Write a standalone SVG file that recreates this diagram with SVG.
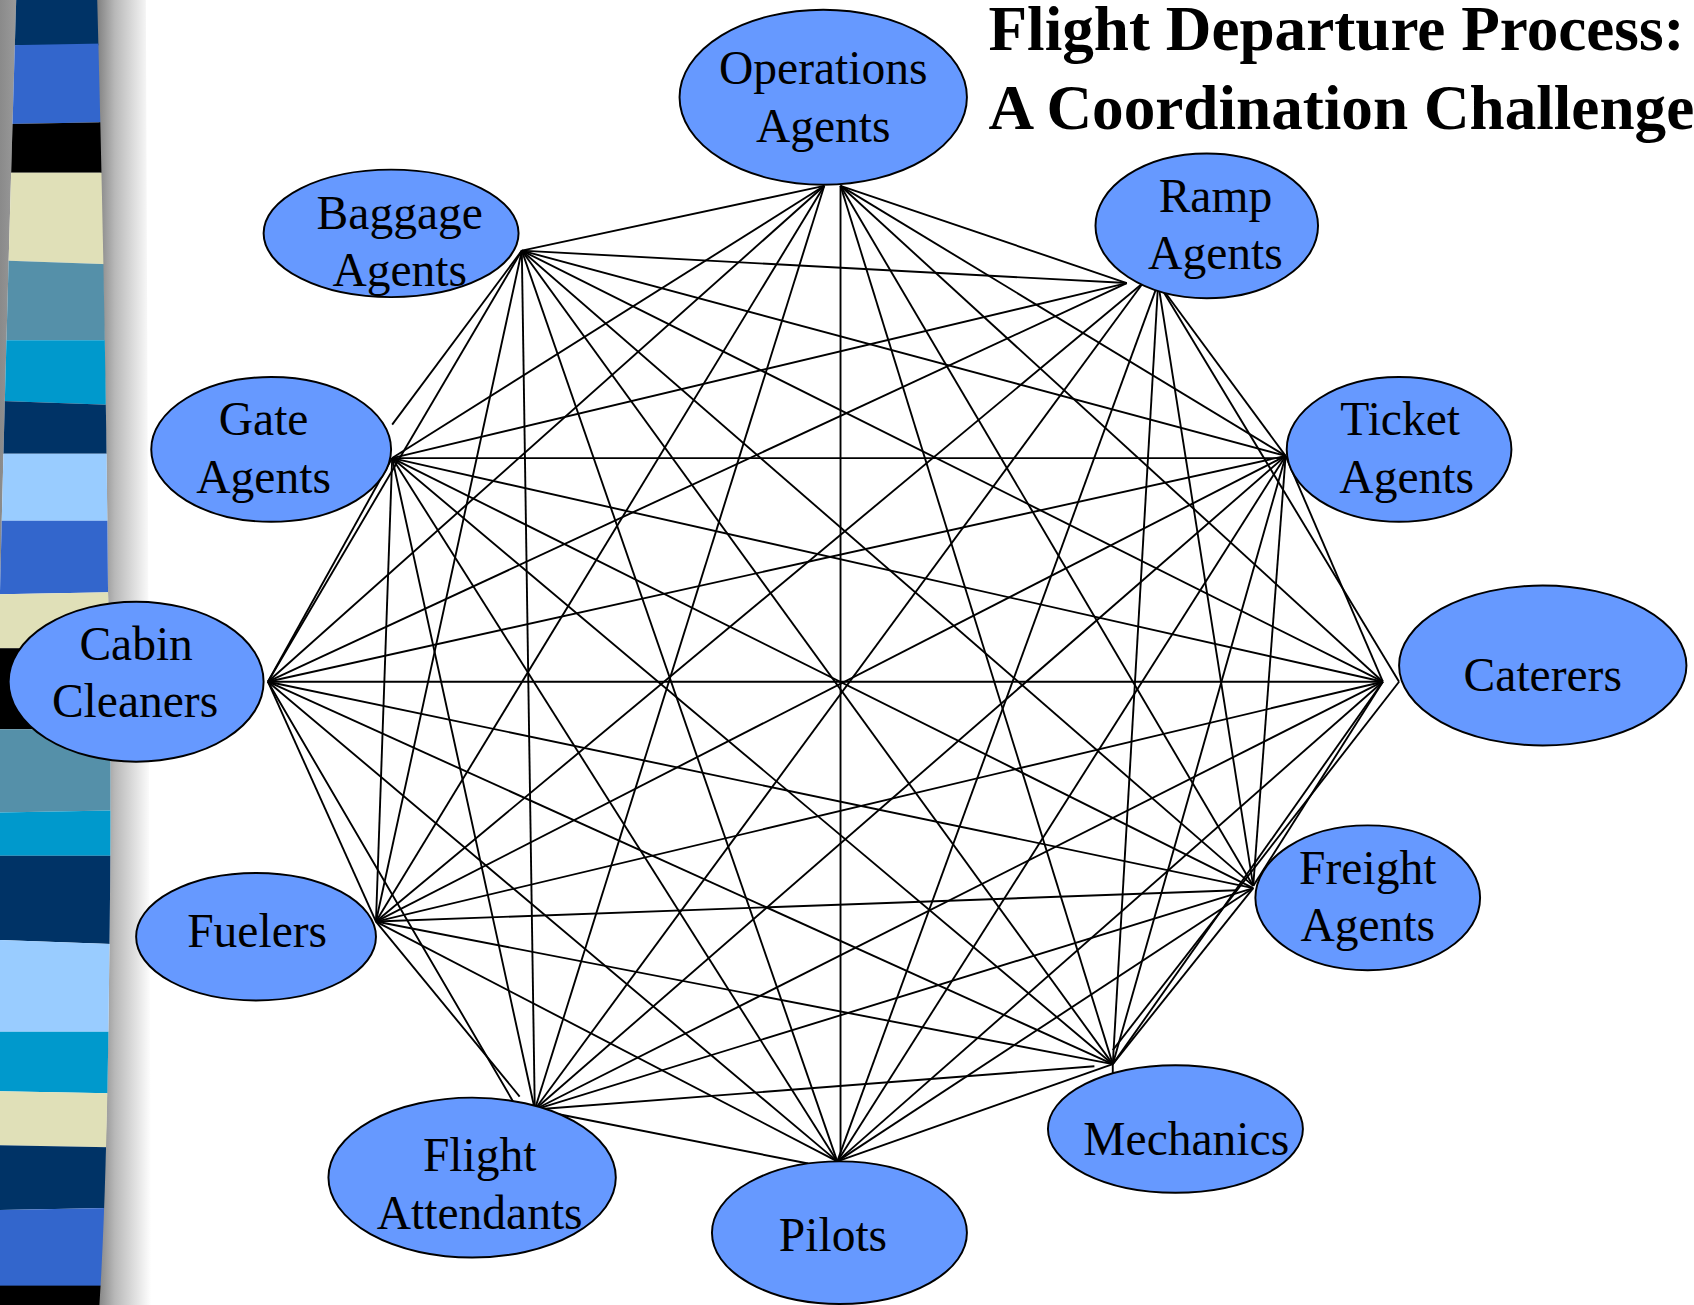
<svg xmlns="http://www.w3.org/2000/svg" width="1694" height="1305" viewBox="0 0 1694 1305">
<defs>
<style>
.node ellipse{fill:#6699FF;stroke:#000;stroke-width:1.8}
.node text{font-family:"Liberation Serif","Times New Roman",serif;font-size:44px;fill:#000;text-anchor:middle}
.title{font-family:"Liberation Serif","Times New Roman",serif;font-size:58.5px;font-weight:bold;fill:#000}
#connectors line,#connectors polyline{stroke:#000;stroke-width:1.75;fill:none}
</style>
<linearGradient id="shadow" x1="0" y1="0" x2="1" y2="0">
<stop offset="0" stop-color="#7a7a7a"/>
<stop offset="0.35" stop-color="#b8b8b8"/>
<stop offset="1" stop-color="#ffffff"/>
</linearGradient>
<linearGradient id="lshadow" x1="0" y1="0" x2="1" y2="0">
<stop offset="0" stop-color="#8a8a8a"/>
<stop offset="1" stop-color="#9a9a9a"/>
</linearGradient>
<clipPath id="band">
<path d="M15,0 L90,0 Q98,300 100,548 Q104,700 101,900 Q99,1100 92,1208 L0,1208 L0,548 Q6,300 15,0 Z"/>
</clipPath>
</defs>
<rect width="1694" height="1305" fill="#fff"/>
<g transform="scale(1.08036)">
<g id="sidebar">
<path d="M0,0 L15,0 Q6,300 0,548 Z" fill="url(#lshadow)"/>
<path d="M88,0 L135,0 L140,1208 L90,1208 Q99,1100 101,900 Q104,700 100,548 Q98,300 88,0 Z" fill="url(#shadow)"/>
<g clip-path="url(#band)">
<rect x="0" y="0" width="110" height="42" fill="#003366"/>
<path d="M0,42 L110,40 L110,113 L0,115 Z" fill="#3366CC"/>
<path d="M0,115 L110,113 L110,160 L0,160 Z" fill="#000"/>
<path d="M0,160 L110,160 L110,245 L0,241 Z" fill="#E0E0B8"/>
<path d="M0,241 L110,245 L110,315 L0,315 Z" fill="#5590A9"/>
<path d="M0,315 L110,315 L110,375 L0,371 Z" fill="#0099CC"/>
<path d="M0,371 L110,375 L110,420 L0,420 Z" fill="#003366"/>
<path d="M0,420 L110,420 L110,482 L0,482 Z" fill="#99CCFF"/>
<path d="M0,482 L110,482 L110,548 L0,550 Z" fill="#3366CC"/>
<path d="M0,550 L110,548 L110,600 L0,600 Z" fill="#E0E0B8"/>
<rect x="0" y="600" width="110" height="75" fill="#000"/>
<path d="M0,675 L110,675 L110,750 L0,752 Z" fill="#5590A9"/>
<path d="M0,752 L110,750 L110,792 L0,792 Z" fill="#0099CC"/>
<path d="M0,792 L110,792 L110,874 L0,870 Z" fill="#003366"/>
<path d="M0,870 L110,874 L110,955 L0,955 Z" fill="#99CCFF"/>
<path d="M0,955 L110,955 L110,1012 L0,1010 Z" fill="#0099CC"/>
<path d="M0,1010 L110,1012 L110,1062 L0,1060 Z" fill="#E0E0B8"/>
<path d="M0,1060 L110,1062 L110,1118 L0,1120 Z" fill="#003366"/>
<path d="M0,1120 L110,1118 L110,1190 L0,1192 Z" fill="#3366CC"/>
<rect x="0" y="1190" width="110" height="20" fill="#000"/>
</g>
</g>
<text class="title" x="915" y="46">Flight Departure Process:</text>
<text class="title" x="915" y="119">A Coordination Challenge</text>
<g id="connectors">
<!-- Operations -->
<line x1="763" y1="172" x2="483" y2="232"/>
<line x1="778" y1="172" x2="1043" y2="262"/>
<line x1="778" y1="172" x2="1190" y2="422"/>
<line x1="778" y1="172" x2="1280" y2="631"/>
<line x1="778" y1="172" x2="1160" y2="820"/>
<line x1="778" y1="172" x2="1030" y2="985"/>
<line x1="778" y1="172" x2="778" y2="1070"/>
<line x1="763" y1="172" x2="495" y2="1027"/>
<line x1="763" y1="172" x2="348" y2="853"/>
<line x1="763" y1="172" x2="248" y2="631"/>
<line x1="763" y1="172" x2="363" y2="424"/>
<!-- Baggage -->
<line x1="483" y1="232" x2="1043" y2="262"/>
<line x1="483" y1="232" x2="1190" y2="422"/>
<line x1="483" y1="232" x2="1280" y2="631"/>
<line x1="483" y1="232" x2="1160" y2="820"/>
<line x1="483" y1="232" x2="1030" y2="985"/>
<line x1="483" y1="232" x2="775" y2="1075"/>
<line x1="483" y1="232" x2="495" y2="1027"/>
<line x1="483" y1="232" x2="348" y2="853"/>
<line x1="483" y1="232" x2="248" y2="631"/>
<line x1="483" y1="232" x2="363" y2="393"/>
<!-- Ramp -->
<line x1="1072" y1="262" x2="1190" y2="422"/>
<line x1="1072" y1="262" x2="1295" y2="631"/>
<line x1="1072" y1="262" x2="1160" y2="820"/>
<line x1="1072" y1="262" x2="1030" y2="985"/>
<line x1="1072" y1="262" x2="775" y2="1075"/>
<line x1="1058" y1="262" x2="495" y2="1027"/>
<line x1="1058" y1="262" x2="348" y2="853"/>
<line x1="1043" y1="262" x2="248" y2="631"/>
<line x1="1043" y1="262" x2="363" y2="424"/>
<!-- Ticket -->
<line x1="1190" y1="422" x2="1280" y2="631"/>
<line x1="1190" y1="422" x2="1160" y2="820"/>
<line x1="1190" y1="422" x2="1030" y2="985"/>
<line x1="1190" y1="422" x2="775" y2="1075"/>
<line x1="1190" y1="422" x2="495" y2="1027"/>
<line x1="1190" y1="422" x2="348" y2="853"/>
<line x1="1190" y1="422" x2="248" y2="631"/>
<line x1="1190" y1="424" x2="363" y2="424"/>
<!-- Caterers -->
<line x1="1280" y1="631" x2="1160" y2="820"/>
<line x1="1280" y1="631" x2="1030" y2="985"/>
<line x1="1295" y1="631" x2="1030" y2="972"/>
<line x1="1280" y1="631" x2="775" y2="1075"/>
<line x1="1280" y1="631" x2="495" y2="1027"/>
<line x1="1280" y1="631" x2="348" y2="853"/>
<line x1="1280" y1="631" x2="248" y2="631"/>
<line x1="1280" y1="631" x2="363" y2="424"/>
<!-- Freight -->
<line x1="1160" y1="822" x2="1030" y2="985"/>
<line x1="1160" y1="822" x2="775" y2="1075"/>
<line x1="1160" y1="822" x2="495" y2="1027"/>
<line x1="1145" y1="824" x2="348" y2="853"/>
<line x1="1160" y1="822" x2="248" y2="631"/>
<line x1="1160" y1="822" x2="363" y2="424"/>
<!-- Mechanics -->
<line x1="1030" y1="985" x2="1030" y2="998"/>
<line x1="1030" y1="985" x2="775" y2="1075"/>
<line x1="1013" y1="987" x2="495" y2="1027"/>
<line x1="1030" y1="985" x2="348" y2="853"/>
<line x1="1030" y1="985" x2="248" y2="631"/>
<line x1="1030" y1="985" x2="363" y2="424"/>
<!-- Pilots -->
<line x1="748" y1="1077" x2="495" y2="1027"/>
<line x1="775" y1="1075" x2="348" y2="853"/>
<line x1="775" y1="1075" x2="248" y2="631"/>
<line x1="775" y1="1075" x2="363" y2="424"/>
<!-- Flight Attendants -->
<polyline points="348,853 481,1015"/>
<polyline points="248,631 481,1030 494,1025"/>
<line x1="495" y1="1027" x2="363" y2="424"/>
<!-- Fuelers -->
<line x1="348" y1="853" x2="248" y2="631"/>
<line x1="348" y1="853" x2="363" y2="424"/>
<!-- Cabin -->
<line x1="248" y1="631" x2="363" y2="424"/>
</g>
<g id="node-operations" class="node"><ellipse cx="762" cy="90" rx="133" ry="81"/><text x="762" y="78">Operations</text><text x="762" y="131">Agents</text></g>
<g id="node-baggage" class="node"><ellipse cx="362" cy="216" rx="118" ry="59"/><text x="370" y="212">Baggage</text><text x="370" y="265">Agents</text></g>
<g id="node-ramp" class="node"><ellipse cx="1117" cy="209" rx="103" ry="67"/><text x="1125" y="196">Ramp</text><text x="1125" y="249">Agents</text></g>
<g id="node-gate" class="node"><ellipse cx="251" cy="416" rx="111" ry="67"/><text x="244" y="403">Gate</text><text x="244" y="456">Agents</text></g>
<g id="node-ticket" class="node"><ellipse cx="1295" cy="416" rx="104" ry="67"/><text x="1296" y="403">Ticket</text><text x="1302" y="456">Agents</text></g>
<g id="node-cabin" class="node"><ellipse cx="126" cy="631" rx="118" ry="74"/><text x="126" y="611">Cabin</text><text x="125" y="664">Cleaners</text></g>
<g id="node-caterers" class="node"><ellipse cx="1428" cy="616" rx="133" ry="74"/><text x="1428" y="640">Caterers</text></g>
<g id="node-fuelers" class="node"><ellipse cx="237" cy="867" rx="111" ry="59"/><text x="238" y="877">Fuelers</text></g>
<g id="node-freight" class="node"><ellipse cx="1266" cy="831" rx="104" ry="67"/><text x="1266" y="818">Freight</text><text x="1266" y="871">Agents</text></g>
<g id="node-attendants" class="node"><ellipse cx="437" cy="1090" rx="133" ry="74"/><text x="444" y="1084">Flight</text><text x="444" y="1138">Attendants</text></g>
<g id="node-pilots" class="node"><ellipse cx="777" cy="1141" rx="118" ry="66"/><text x="771" y="1158">Pilots</text></g>
<g id="node-mechanics" class="node"><ellipse cx="1088" cy="1045" rx="118" ry="59"/><text x="1098" y="1069">Mechanics</text></g>
</g>
</svg>
